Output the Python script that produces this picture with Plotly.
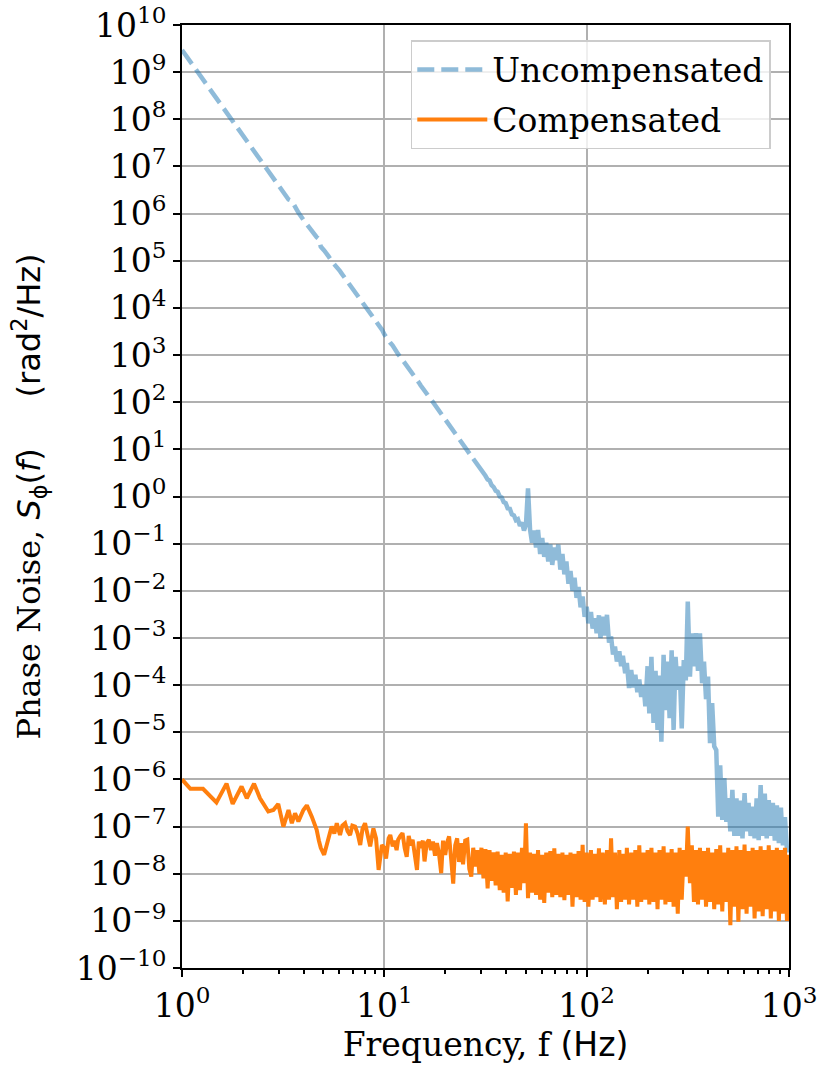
import numpy as np
import plotly.graph_objects as go

# ---------------- data ----------------
# Frequencies (Hz) shared by both spectra
freq_hz = [
    1.00, 1.10, 1.27, 1.48, 1.66, 1.78, 1.97, 2.09, 2.27, 2.43,
    2.67, 2.83, 2.99, 3.17, 3.36, 3.49, 3.62, 3.76, 3.98, 4.14,
    4.38, 4.63, 4.75, 4.85, 5.04, 5.18, 5.29, 5.49, 5.66, 5.82,
    6.04, 6.20, 6.40, 6.58, 6.77, 6.95, 7.17, 7.38, 7.60, 7.80,
    8.03, 8.25, 8.51, 8.83, 9.10, 9.37, 9.73,
    10.0, 10.2, 10.5, 10.7, 11.0, 11.2, 11.5, 11.7, 12.0, 12.3,
    12.6, 12.9, 13.2, 13.5, 13.8, 14.1, 14.5, 14.8, 15.1, 15.5,
    15.8, 16.2, 16.6, 17.0, 17.4, 17.8, 18.2, 18.6, 19.1, 19.5,
    20.0, 20.4, 20.9, 21.4, 21.9, 22.4, 22.9, 23.4, 24.0, 24.5,
    25.1, 25.7, 26.3, 26.9, 27.5, 28.2, 28.8, 29.5, 30.2, 30.9,
    31.6, 32.4, 33.1, 33.9, 34.7, 35.5, 36.3, 37.2, 38.0, 38.9,
    39.8, 40.7, 41.7, 42.7, 43.7, 44.7, 45.7, 46.8, 47.9, 49.0,
    50.1, 51.3, 52.5, 53.7, 55.0, 56.2, 57.5, 58.9, 60.3, 61.7,
    63.1, 64.6, 66.1, 67.6, 69.2, 70.8, 72.4, 74.1, 75.9, 77.6,
    79.4, 81.3, 83.2, 85.1, 87.1, 89.1, 91.2, 93.3, 95.5, 97.7,
    100, 102, 105, 107, 110, 112, 115, 117, 120, 123,
    126, 129, 132, 135, 138, 141, 145, 148, 151, 155,
    158, 162, 166, 170, 174, 178, 182, 186, 191, 195,
    200, 204, 209, 214, 219, 224, 229, 234, 240, 245,
    251, 257, 263, 269, 275, 282, 288, 295, 302, 309,
    316, 324, 331, 339, 347, 355, 363, 372, 380, 389,
    398, 407, 417, 427, 437, 447, 457, 468, 479, 490,
    501, 513, 525, 537, 550, 562, 575, 589, 603, 617,
    631, 646, 661, 676, 692, 708, 724, 741, 759, 776,
    794, 813, 832, 851, 871, 891, 912, 933, 955, 977,
    1000,
]

# Uncompensated phase noise, log10(rad^2/Hz)
uncomp_log10 = [
    9.47, 9.22, 8.85, 8.45, 8.15, 7.98, 7.72, 7.55, 7.33, 7.16,
    6.91, 6.76, 6.62, 6.48, 6.30, 6.27, 6.12, 6.02, 5.87, 5.77,
    5.62, 5.50, 5.46, 5.30, 5.22, 5.16, 5.10, 4.99, 4.93, 4.88,
    4.78, 4.71, 4.63, 4.56, 4.49, 4.42, 4.34, 4.27, 4.19, 4.12,
    4.04, 3.97, 3.89, 3.79, 3.71, 3.64, 3.54,
    3.44, 3.38, 3.32, 3.26, 3.20, 3.14, 3.08, 3.02, 2.96, 2.90,
    2.84, 2.78, 2.72, 2.66, 2.60, 2.54, 2.48, 2.42, 2.36, 2.30,
    2.24, 2.18, 2.12, 2.06, 2.00, 1.94, 1.88, 1.82, 1.76, 1.70,
    1.64, 1.58, 1.52, 1.46, 1.40, 1.34, 1.28, 1.22, 1.16, 1.10,
    1.04, 0.98, 0.92, 0.86, 0.80, 0.74, 0.68, 0.62, 0.56, 0.50,
    0.44, 0.36, 0.34, 0.24, 0.20, 0.12, 0.10, 0.00, -0.02, -0.12,
    -0.14, -0.25, -0.26, -0.38, -0.40, -0.50, -0.48, -0.62, -0.55, -0.72,
    -0.60, 0.17, -0.70, -0.98, -0.72, -1.08, -0.71, -1.22, -0.88, -1.28,
    -0.98, -1.38, -1.02, -1.45, -1.08, -1.35, -1.02, -1.55, -1.22, -1.65,
    -1.38, -1.85, -1.58, -2.00, -1.72, -2.15, -1.92, -2.35, -2.12, -2.55,
    -2.34, -2.69, -2.45, -2.80, -2.58, -2.90, -2.52, -3.00, -2.55, -2.95,
    -2.51, -3.10, -2.97, -3.35, -3.18, -3.50, -3.28, -3.60, -3.38, -3.75,
    -3.53, -4.06, -3.68, -4.05, -3.78, -4.15, -3.88, -4.25, -4.00, -4.45,
    -3.60, -4.60, -3.40, -4.80, -3.70, -4.95, -3.80, -5.20, -3.36, -4.53,
    -3.50, -4.70, -3.26, -4.95, -3.40, -4.10, -3.60, -4.92, -3.47, -3.90,
    -2.23, -3.82, -2.90, -3.60, -2.90, -3.70, -2.90, -3.96, -3.50, -4.30,
    -3.82, -5.23, -4.38, -5.30, -5.38, -6.79, -5.70, -6.86, -5.97, -6.90,
    -6.40, -7.10, -6.22, -7.20, -6.40, -7.20, -6.45, -7.25, -6.29, -7.10,
    -6.50, -7.20, -6.58, -7.25, -6.40, -7.29, -6.12, -7.20, -6.30, -7.25,
    -6.44, -7.20, -6.50, -7.30, -6.55, -7.35, -6.60, -7.40, -6.80, -7.50,
    -7.50,
]

# Compensated phase noise, log10(rad^2/Hz)
comp_log10 = [
    -6.00, -6.20, -6.20, -6.49, -6.09, -6.52, -6.15, -6.40, -6.09, -6.40,
    -6.68, -6.65, -6.52, -7.00, -6.65, -6.93, -6.72, -6.89, -6.65, -6.55,
    -6.79, -7.07, -7.30, -7.45, -7.60, -7.40, -7.25, -7.00, -7.15, -6.93,
    -7.18, -6.98, -6.93, -7.10, -7.18, -6.98, -7.00, -7.15, -7.39, -7.05,
    -6.93, -7.20, -7.42, -7.04, -7.25, -7.92, -7.39,
    -7.45, -7.68, -7.25, -7.18, -7.42, -7.30, -7.50, -7.28, -7.20, -7.14,
    -7.45, -7.64, -7.20, -7.40, -7.28, -7.55, -7.92, -7.32, -7.45, -7.30,
    -7.74, -7.35, -7.28, -7.50, -7.32, -7.62, -7.35, -7.55, -7.99, -7.30,
    -7.60, -7.35, -7.21, -7.70, -8.21, -7.40, -7.25, -7.75, -7.35, -7.80,
    -7.30, -7.28, -7.90, -8.06, -7.45, -7.85, -7.50, -8.00, -7.45, -8.10,
    -7.48, -8.31, -7.50, -8.15, -7.55, -8.25, -7.53, -8.35, -7.60, -8.40,
    -7.55, -8.59, -7.58, -8.30, -7.53, -8.45, -7.55, -8.35, -7.45, -8.20,
    -6.93, -8.52, -7.55, -8.40, -7.58, -8.45, -7.50, -8.55, -7.60, -8.62,
    -7.55, -8.40, -7.52, -8.50, -7.46, -8.45, -7.58, -8.50, -7.55, -8.56,
    -7.60, -8.45, -7.55, -8.70, -7.58, -8.50, -7.52, -8.55, -7.39, -8.60,
    -7.55, -8.70, -7.50, -8.55, -7.58, -8.50, -7.46, -8.60, -7.55, -8.65,
    -7.50, -8.55, -7.25, -8.50, -7.55, -8.75, -7.50, -8.60, -7.58, -8.55,
    -7.45, -8.65, -7.55, -8.55, -7.50, -8.70, -7.40, -8.60, -7.55, -8.55,
    -7.50, -8.65, -7.45, -8.60, -7.55, -8.75, -7.50, -8.55, -7.42, -8.65,
    -7.55, -8.60, -7.48, -8.70, -7.55, -8.85, -7.45, -8.55, -7.50, -8.06,
    -7.00, -8.20, -7.40, -8.60, -7.50, -8.65, -7.45, -8.55, -7.52, -8.70,
    -7.45, -8.60, -7.55, -8.75, -7.48, -8.65, -7.40, -8.80, -7.55, -8.60,
    -7.45, -9.09, -7.50, -8.70, -7.42, -9.02, -7.50, -8.75, -7.38, -8.85,
    -7.52, -8.70, -7.45, -8.95, -7.50, -8.80, -7.42, -8.90, -7.50, -8.75,
    -7.40, -8.95, -7.50, -8.80, -7.45, -9.00, -7.50, -8.85, -7.45, -9.00,
    -7.60,
]

x_tick_values = [1, 10, 100, 1000]
x_tick_labels = ["10<sup>0</sup>", "10<sup>1</sup>", "10<sup>2</sup>", "10<sup>3</sup>"]
x_minor_values = [2, 3, 4, 5, 6, 7, 8, 9, 20, 30, 40, 50, 60, 70, 80, 90,
                  200, 300, 400, 500, 600, 700, 800, 900]
y_tick_exponents = list(range(-10, 11))
y_tick_values = [10.0 ** e for e in y_tick_exponents]
y_tick_labels = ["10<sup>" + str(e).replace("-", "\u2212") + "</sup>" for e in y_tick_exponents]

series_names = ["Uncompensated", "Compensated"]

# ---------------- figure ----------------
SERIF = "DejaVu Serif"

uncomp = np.power(10.0, np.array(uncomp_log10))
comp = np.power(10.0, np.array(comp_log10))

# Beyond ~28 Hz the dense, noisy data makes the dashes merge into a solid band
split = freq_hz.index(27.5)
blue = "rgba(31,119,180,0.5)"

fig = go.Figure()
fig.add_trace(go.Scatter(
    x=freq_hz[:split + 1], y=uncomp[:split + 1], mode="lines", name=series_names[0],
    line=dict(color=blue, width=4.5, dash="17px,7px"),
    legendgroup="a",
))
fig.add_trace(go.Scatter(
    x=freq_hz[split:], y=uncomp[split:], mode="lines", name=series_names[0],
    line=dict(color=blue, width=4.5),
    legendgroup="a", showlegend=False,
))
fig.add_trace(go.Scatter(
    x=freq_hz, y=comp, mode="lines", name=series_names[1],
    line=dict(color="#ff7f0e", width=4),
    legendgroup="b",
))

axis_common = dict(
    showline=True, mirror=True, linecolor="black", linewidth=2,
    ticks="outside", ticklen=7, tickwidth=2, tickcolor="black",
    showgrid=True, gridcolor="#b0b0b0", gridwidth=1.5, zeroline=False,
    tickfont=dict(family=SERIF, size=33, color="black"),
    automargin=False,
)

fig.update_layout(
    width=820, height=1069,
    margin=dict(l=182, r=31, t=25, b=101),
    paper_bgcolor="white", plot_bgcolor="white",
    font=dict(family=SERIF, size=33, color="black"),
    xaxis=dict(
        type="log", range=[0, 3],
        tickmode="array", tickvals=x_tick_values, ticktext=x_tick_labels,
        minor=dict(tickmode="array", tickvals=x_minor_values, ticks="outside",
                   ticklen=4, tickwidth=1.5, tickcolor="black", showgrid=False),
        title=dict(text="Frequency, f <span style=\"font-family:'DejaVu Sans'\">(Hz)</span>",
                   font=dict(family=SERIF, size=33, color="black"), standoff=8),
        **axis_common,
    ),
    yaxis=dict(
        type="log", range=[-10, 10],
        tickmode="array", tickvals=y_tick_values, ticktext=y_tick_labels,
        title=dict(text="Phase Noise, <span style=\"font-family:'DejaVu Sans'\"><i>S</i><sub>\u03d5</sub>(<i>f</i>)"
                        "\u00a0\u00a0\u00a0\u00a0\u00a0(rad<sup>2</sup>/Hz)</span>",
                   font=dict(family=SERIF, size=32, color="black"), standoff=25),
        **axis_common,
    ),
    legend=dict(
        x=0.970, y=0.984, xanchor="right", yanchor="top",
        bgcolor="rgba(255,255,255,0.8)", bordercolor="#cccccc", borderwidth=1.5,
        font=dict(family=SERIF, size=33, color="black"),
        itemwidth=70, traceorder="grouped", tracegroupgap=4,
    ),
    showlegend=True,
)

fig.write_html("out.html")
